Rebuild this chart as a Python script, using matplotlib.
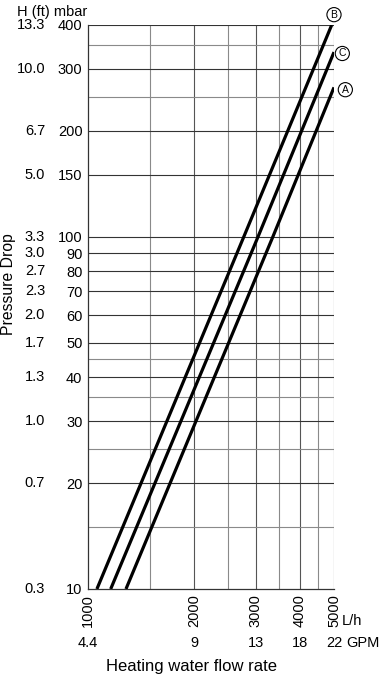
import matplotlib
matplotlib.use('agg')
import matplotlib.pyplot as plt
import numpy as np

# flow axis (L/h) and matching GPM labels
flow_ticks = [1000, 2000, 3000, 4000, 5000]
flow_minor = [1500, 2500, 3500, 4500]
gpm_labels = ["4.4", "9", "13", "18", "22"]

# pressure axis (mbar) and matching head in ft
dp_ticks = [10, 20, 30, 40, 50, 60, 70, 80, 90, 100, 150, 200, 300, 400]
dp_minor = [15, 25, 35, 45, 250, 350]
ft_labels = ["0.3", "0.7", "1.0", "1.3", "1.7", "2.0", "2.3", "2.7", "3.0",
             "3.3", "5.0", "6.7", "10.0", "13.3"]

# curves (flow L/h, pressure mbar)
curve_names = ["B", "C", "A"]
curve_flow = [[1060, 2770, 4925],
              [1160, 3040, 5000],
              [1282, 3350, 5000]]
curve_dp = [[10, 100, 400],
            [10, 100, 335],
            [10, 100, 266]]
label_pos = [(5000, 428), (5280, 332), (5385, 262)]

plt.rcParams['font.family'] = ['Liberation Sans', 'DejaVu Sans']
fs = 10.5

W, H = 380, 675
fig = plt.figure(figsize=(W/100, H/100), dpi=100)
x0, x1, y0, y1 = 88, 334, 25, 589
ax = fig.add_axes([x0/W, 1-y1/H, (x1-x0)/W, (y1-y0)/H])
ax.set_xscale('log')
ax.set_yscale('log')
ax.set_xlim(1000, 5000)
ax.set_ylim(10, 400)

for v in flow_ticks[1:]:
    ax.axvline(v, color='#555555', lw=0.8, zorder=1)
for v in flow_minor:
    ax.axvline(v, color='#8a8a8a', lw=0.8, zorder=1)
for v in dp_ticks[1:]:
    ax.axhline(v, color='#333333', lw=0.8, zorder=1)
for v in dp_minor:
    ax.axhline(v, color='#8a8a8a', lw=0.8, zorder=1)

for s in ['top', 'right']:
    ax.spines[s].set_visible(False)
for s in ['left', 'bottom']:
    ax.spines[s].set_color('#333333')
    ax.spines[s].set_linewidth(0.9)

for name, fx, dy in zip(curve_names, curve_flow, curve_dp):
    ax.plot(fx, dy, color='black', lw=2.3, solid_capstyle='butt', zorder=3)

for name, (lx, ly) in zip(curve_names, label_pos):
    ax.text(lx, ly, name, fontsize=7.5, ha='center', va='center', clip_on=False,
            bbox=dict(boxstyle='circle,pad=0.2', fc='white', ec='black', lw=0.8))

ax.set_xticks(flow_ticks)
ax.set_xticklabels([str(v) for v in flow_ticks], rotation=90, fontsize=fs)
ax.set_xticks([], minor=True)
ax.set_yticks(dp_ticks)
ax.set_yticklabels([str(v) for v in dp_ticks], fontsize=fs)
ax.set_yticks([], minor=True)
ax.tick_params(axis='both', length=0, pad=4)

ytr = ax.get_yaxis_transform()
for v, lab in zip(dp_ticks, ft_labels):
    ax.text((45-x0)/(x1-x0), v, lab, transform=ytr, ha='right', va='center', fontsize=fs)

xtr = ax.get_xaxis_transform()
gy = (y1-643)/(y1-y0)
for v, lab in zip(flow_ticks, gpm_labels):
    ax.text(v, gy, lab, transform=xtr, ha='center', va='center', fontsize=fs)
fig.text(346/W, 1-643/H, "GPM", ha='left', va='center', fontsize=fs)
fig.text(342/W, 1-621/H, "L/h", ha='left', va='center', fontsize=fs)

fig.text(17/W, 1-12/H, "H (ft) mbar", ha='left', va='center', fontsize=fs)
fig.text(9/W, 1-284/H, "Pressure Drop", rotation=90, ha='center', va='center', fontsize=11.3)
fig.text(191/W, 1-666/H, "Heating water flow rate", ha='center', va='center', fontsize=12)

fig.savefig('out.png', dpi=100)
